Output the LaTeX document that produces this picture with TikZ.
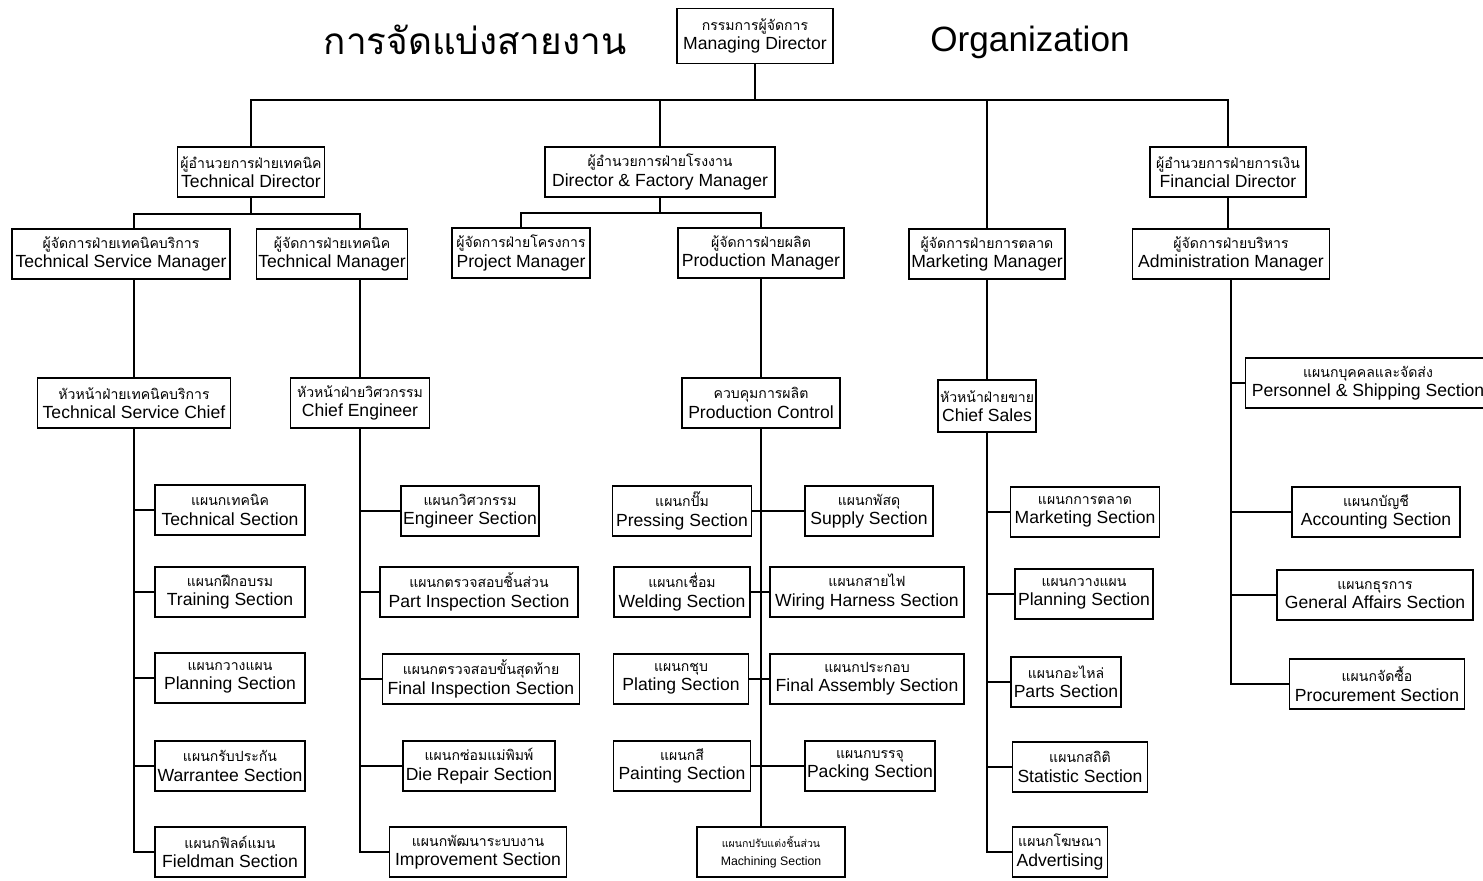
\documentclass[tikz,border=0pt]{standalone}
\usepackage{fontspec}
\setmainfont{Liberation Sans}
\newfontfamily\thfont[Script=Thai]{Loma}
\newcommand{\thline}[1]{{\thfont\fontsize{8}{10}\selectfont #1}}

\begin{document}
\begin{tikzpicture}[x=0.02cm, y=-0.02cm, line width=0.9pt,
  unit/.style={draw, align=center, minimum height=1cm, inner sep=1pt, font=\fontsize{10}{11}\selectfont},
  boxw/.style={minimum width=#1*0.02cm}]

\useasboundingbox (0,0) rectangle (1483,880);

% Title texts
\node at (475,40) (title) {\thfont\fontsize{21}{23}\selectfont การจัดแบ่งสายงาน};
\node at (1030,42) (org) {\fontsize{20}{22}\selectfont Organization};

% Managing Director at the top
\node[unit, boxw=156, minimum height=1.1cm] at (755,36) (md) {\thline{กรรมการผู้จัดการ}\\Managing Director};

% Directors
\node[unit, boxw=147] at (251,172) (td) {\thline{ผู้อำนวยการฝ่ายเทคนิค}\\Technical Director};
\node[unit, boxw=230] at (660,172) (dfm) {\thline{ผู้อำนวยการฝ่ายโรงงาน}\\Director \& Factory Manager};
\node[unit, boxw=156] at (1228,172) (fd) {\thline{ผู้อำนวยการฝ่ายการเงิน}\\Financial Director};

% Managers
\node[unit, boxw=218] at (121,254) (tsm) {\thline{ผู้จัดการฝ่ายเทคนิคบริการ}\\Technical Service Manager};
\node[unit, boxw=150] at (332,254) (tm) {\thline{ผู้จัดการฝ่ายเทคนิค}\\Technical Manager};
\node[unit, boxw=138] at (521,253) (pjm) {\thline{ผู้จัดการฝ่ายโครงการ}\\Project Manager};
\node[unit, boxw=166] at (761,253) (prm) {\thline{ผู้จัดการฝ่ายผลิต}\\Production Manager};
\node[unit, boxw=156] at (987,254) (mm) {\thline{ผู้จัดการฝ่ายการตลาด}\\Marketing Manager};
\node[unit, boxw=197] at (1231,254) (am) {\thline{ผู้จัดการฝ่ายบริหาร}\\Administration Manager};

% Chiefs
\node[unit, boxw=193] at (134,403) (tsc) {\thline{หัวหน้าฝ่ายเทคนิคบริการ}\\Technical Service Chief};
\node[unit, boxw=139] at (360,403) (ce) {\thline{หัวหน้าฝ่ายวิศวกรรม}\\Chief Engineer};
\node[unit, boxw=158] at (761,403) (pc) {\thline{ควบคุมการผลิต}\\Production Control};
\node[unit, boxw=98, minimum height=1.04cm] at (987,406) (cs) {\thline{หัวหน้าฝ่ายขาย}\\Chief Sales};

% Technical service sections
\node[unit, boxw=150] at (230,510) (ts) {\thline{แผนกเทคนิค}\\Technical Section};
\node[unit, boxw=150] at (230,592) (trs) {\thline{แผนกฝึกอบรม}\\Training Section};
\node[unit, boxw=150] at (230,678) (pls) {\thline{แผนกวางแผน}\\Planning Section};
\node[unit, boxw=150] at (230,766) (ws) {\thline{แผนกรับประกัน}\\Warrantee Section};
\node[unit, boxw=150] at (230,852) (fs) {\thline{แผนกฟิลด์แมน}\\Fieldman Section};

% Engineering sections
\node[unit, boxw=138] at (470,511) (es) {\thline{แผนกวิศวกรรม}\\Engineer Section};
\node[unit, boxw=198] at (479,592) (pis) {\thline{แผนกตรวจสอบชิ้นส่วน}\\Part Inspection Section};
\node[unit, boxw=197] at (481,679) (fis) {\thline{แผนกตรวจสอบขั้นสุดท้าย}\\Final Inspection Section};
\node[unit, boxw=152] at (479,766) (drs) {\thline{แผนกซ่อมแม่พิมพ์}\\Die Repair Section};
\node[unit, boxw=177] at (478,852) (ims) {\thline{แผนกพัฒนาระบบงาน}\\Improvement Section};

% Production sections
\node[unit, boxw=139] at (682,511) (press) {\thline{แผนกปั๊ม}\\Pressing Section};
\node[unit, boxw=128] at (869,511) (sup) {\thline{แผนกพัสดุ}\\Supply Section};
\node[unit, boxw=136] at (682,592) (weld) {\thline{แผนกเชื่อม}\\Welding Section};
\node[unit, boxw=194] at (867,592) (wire) {\thline{แผนกสายไฟ}\\Wiring Harness Section};
\node[unit, boxw=135] at (681,679) (plat) {\thline{แผนกชุบ}\\Plating Section};
\node[unit, boxw=194] at (867,679) (fas) {\thline{แผนกประกอบ}\\Final Assembly Section};
\node[unit, boxw=137] at (682,766) (paint) {\thline{แผนกสี}\\Painting Section};
\node[unit, boxw=130] at (870,766) (pack) {\thline{แผนกบรรจุ}\\Packing Section};
\node[unit, boxw=148, font=\fontsize{7}{10}\selectfont] at (771,852) (mach) {{\thfont\fontsize{6}{9}\selectfont แผนกปรับแต่งชิ้นส่วน}\\Machining Section};

% Marketing sections
\node[unit, boxw=149] at (1085,512) (mks) {\thline{แผนกการตลาด}\\Marketing Section};
\node[unit, boxw=138] at (1084,594) (mpl) {\thline{แผนกวางแผน}\\Planning Section};
\node[unit, boxw=110] at (1066,682) (parts) {\thline{แผนกอะไหล่}\\Parts Section};
\node[unit, boxw=135] at (1080,767) (stat) {\thline{แผนกสถิติ}\\Statistic Section};
\node[unit, boxw=95] at (1060,852) (adv) {\thline{แผนกโฆษณา}\\Advertising};

% Administration sections
\node[unit, boxw=245] at (1368,383) (pss) {\thline{แผนกบุคคลและจัดส่ง}\\Personnel \& Shipping Section};
\node[unit, boxw=168] at (1376,512) (acc) {\thline{แผนกบัญชี}\\Accounting Section};
\node[unit, boxw=196] at (1375,595) (gas) {\thline{แผนกธุรการ}\\General Affairs Section};
\node[unit, boxw=175] at (1377,684) (proc) {\thline{แผนกจัดซื้อ}\\Procurement Section};

% Main bus under Managing Director
\coordinate (bus) at (755,100);
\draw (md.south) -- (bus);
\draw (td.north) |- (bus) -| (fd.north);
\draw (dfm.north) -- (dfm.north |- bus);
\draw (mm.north) -- (mm.north |- bus);

% Technical Director branch
\coordinate (tdbus) at (251,214);
\draw (td.south) -- (tdbus);
\draw (tsm.north -| tsc) |- (tdbus) -| (tm.north -| ce);
\draw (tsm.south -| tsc) -- (tsc.north);
\draw (tm.south -| ce) -- (ce.north);
\draw (tsc.south) |- (fs.west);
\draw (tsc.south |- ts.west) -- (ts.west);
\draw (tsc.south |- trs.west) -- (trs.west);
\draw (tsc.south |- pls.west) -- (pls.west);
\draw (tsc.south |- ws.west) -- (ws.west);
\draw (ce.south) |- (ims.west);
\draw (ce.south |- es.west) -- (es.west);
\draw (ce.south |- pis.west) -- (pis.west);
\draw (ce.south |- fis.west) -- (fis.west);
\draw (ce.south |- drs.west) -- (drs.west);

% Factory branch
\coordinate (dfmbus) at (660,213);
\draw (dfm.south) -- (dfmbus);
\draw (pjm.north) |- (dfmbus) -| (prm.north);
\draw (prm.south) -- (pc.north);
\draw (pc.south) -- (pc.south |- mach.north);
\draw (press.east) -- (sup.west);
\draw (weld.east) -- (wire.west);
\draw (plat.east) -- (fas.west);
\draw (paint.east) -- (pack.west);

% Marketing branch
\draw (mm.south) -- (cs.north);
\draw (cs.south) |- (adv.west);
\draw (cs.south |- mks.west) -- (mks.west);
\draw (cs.south |- mpl.west) -- (mpl.west);
\draw (cs.south |- parts.west) -- (parts.west);
\draw (cs.south |- stat.west) -- (stat.west);

% Finance branch
\draw (fd.south) -- (fd.south |- am.north);
\draw[line width=1.6pt] (am.south) |- (proc.west);
\draw (am.south |- pss.west) -- (pss.west);
\draw (am.south |- acc.west) -- (acc.west);
\draw (am.south |- gas.west) -- (gas.west);
\end{tikzpicture}
\end{document}
